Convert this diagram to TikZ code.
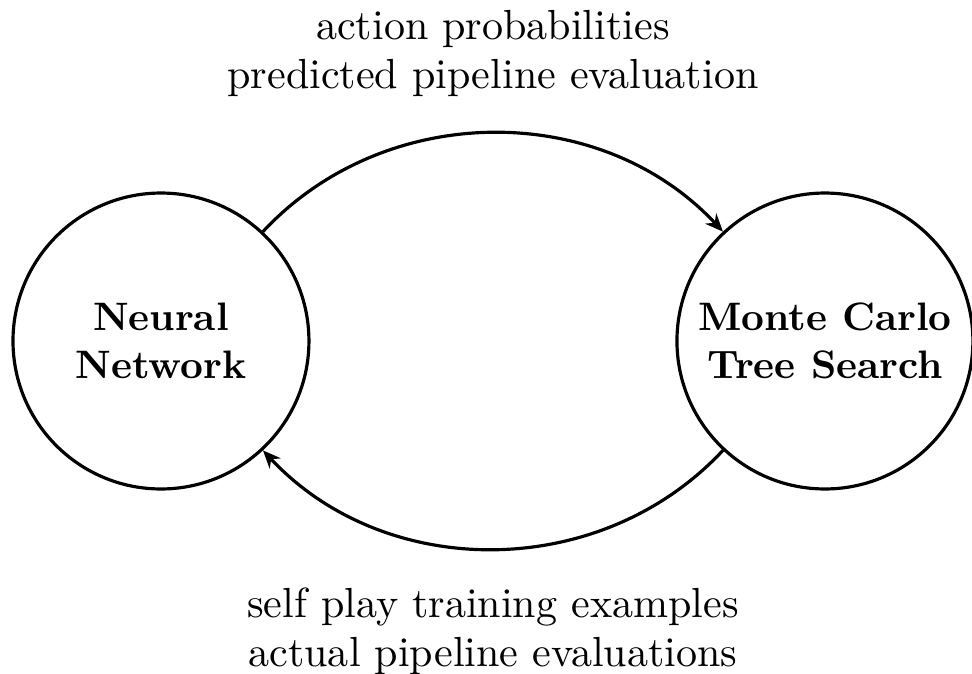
\documentclass[tikz,border=0pt]{standalone}
\usetikzlibrary{arrows.meta}
\begin{document}
\begin{tikzpicture}[
    agent/.style={draw,thick,circle,minimum size=2.62cm,inner sep=0pt,
        align=center,font=\bfseries},
    flow/.style={thick,-{Stealth[length=4.5pt,width=3.8pt]}},
    msg/.style={align=center,font=\fontsize{10.6}{12.4}\selectfont}]
    \useasboundingbox (0,0) rectangle (8.605,-5.966);

    \node[agent] (nn) at (1.425,-3.019) {Neural\\Network};
    \node[agent] (mcts) at (7.303,-3.019) {Monte Carlo\\Tree Search};

    \draw[flow] (nn) to[bend left=47]
        node[msg,above=5.5pt] {action probabilities\\predicted pipeline evaluation} (mcts);
    \draw[flow] (mcts) to[bend left=47]
        node[msg,below=6pt] {self play training examples\\actual pipeline evaluations} (nn);
\end{tikzpicture}
\end{document}
